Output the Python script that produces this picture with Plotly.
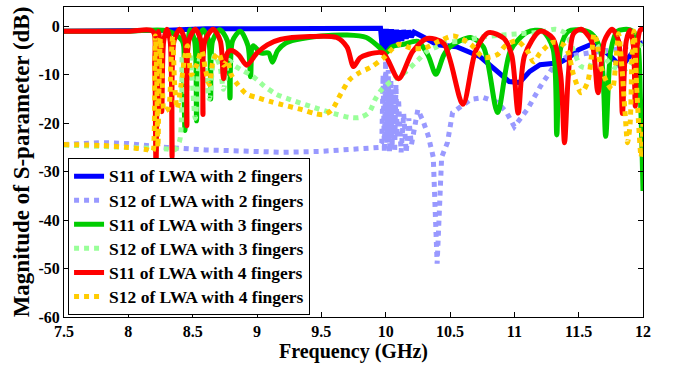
import plotly.graph_objects as go

# ---------------- data ----------------
x_tickvals = [7.5, 8, 8.5, 9, 9.5, 10, 10.5, 11, 11.5, 12]
x_ticktext = ["7.5", "8", "8.5", "9", "9.5", "10", "10.5", "11", "11.5", "12"]
y_tickvals = [-60, -50, -40, -30, -20, -10, 0]
y_ticktext = ["-60", "-50", "-40", "-30", "-20", "-10", "0"]

# S11 of LWA with 2 fingers
f_s11_2 = [7.5, 8.0, 8.3, 8.6, 9.0, 9.5, 9.96, 9.975, 9.985, 9.995, 10.005,
           10.015, 10.025, 10.035, 10.045, 10.055, 10.065, 10.075, 10.085, 10.095, 10.11,
           10.125, 10.14, 10.16, 10.18, 10.2, 10.22, 10.3, 10.4, 10.55, 10.73,
           10.85, 10.96, 11.04, 11.12, 11.2, 11.35, 11.42, 11.5, 11.6, 11.7,
           11.78, 11.83, 11.9, 11.96, 12.0]
m_s11_2 = [-1.0, -1.0, -0.8, -0.5, -0.45, -0.4, -0.4, -5.0, -0.5, -5.2, -0.5,
           -4.8, -0.6, -4.5, -0.6, -4.2, -0.7, -3.8, -0.7, -3.5, -0.8,
           -3.0, -0.8, -2.5, -0.9, -2.2, -1.2, -2.3, -3.8, -4.2, -6.2,
           -8.9, -11.4, -11.6, -9.3, -7.9, -7.5, -6.5, -4.8, -3.7, -5.0,
           -7.0, -8.5, -6.0, -4.0, -3.3]

# S12 of LWA with 2 fingers
f_s12_2 = [7.5, 7.8, 8.0, 8.3, 8.6, 9.0, 9.2, 9.5, 9.8, 9.95,
           9.97, 9.98, 9.99, 10.0, 10.01, 10.02, 10.03, 10.04, 10.05, 10.06,
           10.07, 10.08, 10.09, 10.1, 10.12, 10.14, 10.16, 10.18, 10.2, 10.25,
           10.29, 10.33, 10.37, 10.4, 10.435, 10.48, 10.52, 10.66, 10.76, 10.87,
           10.94, 11.0, 11.1, 11.2, 11.3, 11.41, 11.6, 11.78, 11.88, 12.0]
m_s12_2 = [-24.4, -24.0, -24.2, -25.0, -25.5, -25.8, -26.0, -25.8, -25.3, -25.0,
           -24.0, -10.0, -26.0, -7.0, -24.0, -9.0, -26.0, -11.0, -25.0, -13.0,
           -26.0, -12.0, -23.0, -15.0, -26.0, -18.0, -26.0, -19.0, -24.5, -17.2,
           -19.5, -22.5, -27.0, -49.0, -27.0, -24.0, -17.8, -15.1, -14.7, -15.7,
           -17.8, -20.7, -17.2, -12.5, -8.5, -6.2, -5.4, -4.8, -4.1, -3.3]

# S11 of LWA with 3 fingers
f_s11_3 = [7.5, 8.0, 8.3, 8.42, 8.43, 8.44, 8.45, 8.48, 8.515, 8.53,
           8.545, 8.58, 8.625, 8.64, 8.655, 8.71, 8.77, 8.79, 8.81, 8.87,
           8.93, 8.95, 8.97, 9.03, 9.09, 9.12, 9.16, 9.22, 9.3, 9.5,
           9.7, 9.85, 9.95, 10.0, 10.05, 10.14, 10.25, 10.33, 10.39, 10.45,
           10.5, 10.66, 10.76, 10.87, 10.97, 11.1, 11.22, 11.3, 11.33, 11.36,
           11.42, 11.5, 11.6, 11.67, 11.71, 11.75, 11.8, 11.9, 11.95, 11.98, 12.0]
m_s11_3 = [-1.0, -1.0, -0.9, -3.0, -10.0, -21.5, -10.0, -0.7, -3.0, -19.5,
           -3.0, -0.7, -3.0, -15.0, -3.0, -0.7, -3.0, -14.8, -3.0, -1.0,
           -4.0, -10.4, -4.0, -5.5, -5.5, -7.4, -5.0, -3.5, -2.8, -2.0,
           -1.8, -2.3, -4.3, -5.5, -4.2, -3.7, -3.1, -6.0, -9.9, -6.0,
           -4.2, -2.3, -4.3, -17.8, -5.0, -1.2, -1.0, -4.5, -22.4, -4.5,
           -1.0, -0.7, -1.5, -5.0, -22.7, -5.0, -1.0, -0.7, -2.0, -15.0, -34.0]

# S12 of LWA with 3 fingers
f_s12_3 = [7.5, 8.0, 8.3, 8.36, 8.4, 8.42, 8.45, 8.48, 8.52, 8.56,
           8.6, 8.63, 8.67, 8.71, 8.74, 8.78, 8.82, 8.88, 8.95, 9.0,
           9.05, 9.15, 9.3, 9.45, 9.6, 9.72, 9.8, 9.87, 9.92, 9.97,
           10.05, 10.15, 10.25, 10.32, 10.4, 10.48, 10.6, 10.75, 10.9, 11.05,
           11.2, 11.32, 11.4, 11.46, 11.52, 11.58, 11.63, 11.67, 11.72, 11.78,
           11.85, 11.9, 11.95, 12.0]
m_s12_3 = [-24.5, -25.0, -25.3, -25.5, -23.5, -6.0, -14.0, -5.5, -19.0, -6.0,
           -9.0, -15.0, -6.0, -8.0, -13.0, -7.0, -8.0, -9.0, -10.0, -11.0,
           -12.2, -14.0, -15.5, -16.8, -18.0, -18.8, -18.8, -17.8, -15.0, -13.0,
           -11.2, -9.5, -7.0, -5.2, -4.2, -3.3, -3.0, -2.2, -1.8, -1.5,
           -1.2, -0.6, -1.5, -5.0, -8.3, -8.5, -5.0, -4.0, -7.0, -8.5,
           -9.0, -8.0, -5.0, -3.0]

# S11 of LWA with 4 fingers
f_s11_4 = [7.5, 8.0, 8.19, 8.205, 8.215, 8.225, 8.235, 8.245, 8.26, 8.275,
           8.3, 8.325, 8.34, 8.355, 8.4, 8.44, 8.455, 8.47, 8.52, 8.565,
           8.58, 8.595, 8.66, 8.715, 8.74, 8.77, 8.8, 8.86, 8.92, 9.0,
           9.08, 9.18, 9.41, 9.62, 9.7, 9.75, 9.8, 9.86, 9.98, 10.1,
           10.21, 10.32, 10.45, 10.6, 10.7, 10.8, 10.92, 10.98, 11.03, 11.08,
           11.2, 11.3, 11.36, 11.39, 11.42, 11.46, 11.52, 11.6, 11.65, 11.7,
           11.76, 11.81, 11.84, 11.87, 11.9, 11.925, 11.94, 11.955, 11.98, 12.0]
m_s11_4 = [-1.0, -1.0, -1.0, -8.0, -30.0, -8.0, -1.0, -3.0, -17.6, -3.0,
           -0.6, -3.0, -27.0, -3.0, -0.6, -3.0, -20.5, -3.0, -0.6, -3.0,
           -18.2, -3.0, -0.6, -3.0, -10.8, -5.5, -5.0, -6.0, -8.0, -5.5,
           -3.8, -2.7, -2.1, -2.3, -4.3, -8.3, -6.5, -5.8, -5.5, -10.8,
           -5.2, -2.5, -3.5, -16.1, -5.0, -1.3, -2.5, -6.0, -17.9, -6.0,
           -1.0, -2.5, -10.0, -24.0, -10.0, -1.5, -0.6, -3.0, -13.7, -3.0,
           -0.6, -3.0, -18.0, -3.0, -0.8, -4.0, -16.5, -4.0, -0.7, -0.6]

# S12 of LWA with 4 fingers
f_s12_4 = [7.5, 7.8, 8.0, 8.15, 8.19, 8.2, 8.205, 8.21, 8.22, 8.23,
           8.24, 8.25, 8.265, 8.28, 8.31, 8.33, 8.345, 8.36, 8.38, 8.41,
           8.44, 8.46, 8.49, 8.53, 8.57, 8.6, 8.63, 8.66, 8.7, 8.74,
           8.77, 8.8, 8.85, 8.92, 9.0, 9.1, 9.2, 9.35, 9.45, 9.52,
           9.58, 9.65, 9.72, 9.8, 9.88, 9.98, 10.1, 10.2, 10.3, 10.42,
           10.53, 10.66, 10.76, 10.87, 10.93, 11.02, 11.1, 11.15, 11.2, 11.3,
           11.38, 11.42, 11.46, 11.52, 11.57, 11.6, 11.62, 11.64, 11.67, 11.72,
           11.76, 11.79, 11.81, 11.835, 11.86, 11.88, 11.9, 11.915, 11.93, 11.95,
           11.97, 11.985, 12.0]
m_s12_4 = [-24.4, -24.6, -25.0, -25.5, -25.8, -23.0, -10.0, -2.0, -10.0, -25.0,
           -10.0, -2.5, -12.0, -17.5, -17.0, -8.0, -2.0, -12.0, -17.0, -12.0,
           -6.0, -4.0, -10.0, -8.0, -5.0, -9.0, -12.0, -7.0, -5.5, -8.0,
           -7.0, -10.0, -12.0, -14.0, -14.7, -15.5, -16.2, -17.2, -18.0, -18.2,
           -17.3, -14.0, -11.0, -9.5, -8.5, -6.6, -3.7, -4.5, -4.5, -3.0,
           -2.0, -3.7, -6.4, -5.8, -4.0, -3.0, -5.0, -7.3, -5.5, -3.3,
           -3.8, -5.5, -10.0, -13.7, -11.5, -6.0, -1.5, -3.0, -8.0, -11.6,
           -13.0, -7.0, -1.5, -8.0, -17.6, -24.0, -20.0, -6.0, -1.0, -12.0,
           -22.0, -27.0, -20.0]

series = [
    ("S11 of LWA with 2 fingers", f_s11_2, m_s11_2, "#0000ff", "solid", "linear"),
    ("S12 of LWA with 2 fingers", f_s12_2, m_s12_2, "#9999ff", "dot", "linear"),
    ("S11 of LWA with 3 fingers", f_s11_3, m_s11_3, "#00cc00", "solid", "spline"),
    ("S12 of LWA with 3 fingers", f_s12_3, m_s12_3, "#99ff99", "dot", "spline"),
    ("S11 of LWA with 4 fingers", f_s11_4, m_s11_4, "#ff0000", "solid", "spline"),
    ("S12 of LWA with 4 fingers", f_s12_4, m_s12_4, "#ffcc00", "dot", "spline"),
]

FONT = "Liberation Serif"

fig = go.Figure()
for i, (name, fx, my, col, dash, shape) in enumerate(series):
    line = dict(color=col, width=5, dash=dash, shape=shape)
    if shape == "spline":
        line["smoothing"] = 0.8
    fig.add_trace(go.Scatter(
        x=fx, y=my, mode="lines",
        name='<span style="font-size:17.5px">' + name + '</span>',
        line=line))

fig.update_layout(
    width=676, height=367,
    margin=dict(l=64, r=33, t=7, b=50),
    paper_bgcolor="white", plot_bgcolor="white",
    font=dict(family=FONT, color="black", size=16, weight="bold"),
    showlegend=True,
    legend=dict(
        x=0.007, y=0.006, xanchor="left", yanchor="bottom",
        bgcolor="white", bordercolor="black", borderwidth=1,
        font=dict(family=FONT, size=16.2, color="black", weight="bold"),
        itemwidth=30, traceorder="normal",
    ),
)
fig.update_xaxes(
    range=[7.5, 12], tickvals=x_tickvals, ticktext=x_ticktext,
    showline=True, linecolor="black", linewidth=1, mirror="ticks",
    ticks="inside", ticklen=5, tickcolor="black", showgrid=False, zeroline=False,
    tickfont=dict(family=FONT, size=16, weight="bold"),
    title=dict(text="Frequency (GHz)", font=dict(family=FONT, size=20, weight="bold"), standoff=4),
)
fig.update_yaxes(
    range=[-60, 4], tickvals=y_tickvals, ticktext=y_ticktext,
    showline=True, linecolor="black", linewidth=1, mirror="ticks",
    ticks="inside", ticklen=5, tickcolor="black", showgrid=False, zeroline=False,
    tickfont=dict(family=FONT, size=16, weight="bold"),
    title=dict(text="Magnitude of S-parameter (dB)", font=dict(family=FONT, size=23, weight="bold"), standoff=2),
)

fig.write_html("out.html")
